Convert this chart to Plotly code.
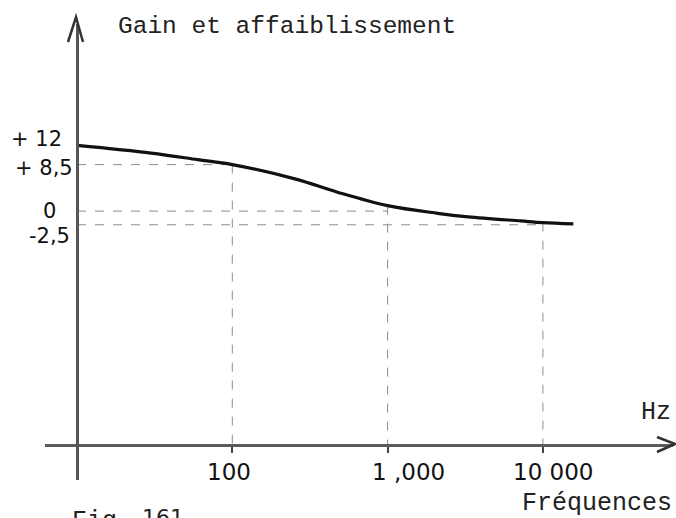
import numpy as np
import plotly.graph_objects as go

# Response curve: gain/attenuation (dB) versus frequency (Hz)
freq_hz = [10, 30, 60, 100, 260, 470, 1000, 2100, 3300, 7200, 10000, 15700]
gain_db = [12, 10.6, 9.4, 8.5, 5.8, 3.5, 1.0, -0.4, -1.05, -1.8, -2.1, -2.35]

# Reference levels marked with dashed guides
guide_freq = [100, 1000, 10000]
guide_gain = [8.5, 0, -2.5]

# Axis labels
y_tickvals = [12, 8.5, 0, -2.5]
y_ticktext = ["+ 12", "+ 8,5", "0", "-2,5"]
x_tickvals = [100, 1000, 10000]
x_ticktext = ["100", "1 ,000", "10 000"]

W, H = 676, 518

# Page geometry (pixels)
X_LEFT, X_RIGHT = 45, 673        # horizontal axis extent
Y_TOP, Y_BOTTOM = 24, 480        # vertical axis extent
ORIGIN_X, ORIGIN_Y = 77, 445     # where the two axes cross
PX_PER_DECADE = 155.3
Y_ZERO_PX, PX_PER_DB = 211.1, 5.47


def lx(px):
    return 1 + (px - ORIGIN_X) / PX_PER_DECADE


def gy(py):
    return (Y_ZERO_PX - py) / PX_PER_DB


def paper_x(px):
    return px / W


def paper_y(py):
    return 1 - py / H


x_range = [lx(X_LEFT), lx(X_RIGHT)]
y_range = [gy(Y_BOTTOM), gy(Y_TOP)]
x_origin = 10 ** lx(ORIGIN_X)
y_floor = gy(ORIGIN_Y)

fig = go.Figure()

# Dashed guides: horizontal at the marked level, vertical from the curve down to the axis
guide_style = dict(color="#8c8c8c", width=1, dash="dash")
for f, g in zip(guide_freq, guide_gain):
    g_curve = gain_db[freq_hz.index(f)]
    fig.add_trace(go.Scatter(x=[x_origin, f], y=[g, g], mode="lines",
                             line=guide_style, hoverinfo="skip", showlegend=False))
    fig.add_trace(go.Scatter(x=[f, f], y=[g_curve, y_floor], mode="lines",
                             line=guide_style, hoverinfo="skip", showlegend=False))

fig.add_trace(go.Scatter(x=freq_hz, y=gain_db, mode="lines",
                         line=dict(color="#111111", width=3.2, shape="spline", smoothing=1.0),
                         showlegend=False))

fig.update_layout(
    width=W, height=H,
    margin=dict(l=0, r=0, t=0, b=0),
    paper_bgcolor="white", plot_bgcolor="white",
    xaxis=dict(type="log", range=x_range,
               domain=[paper_x(X_LEFT), paper_x(X_RIGHT)],
               anchor="free", position=paper_y(ORIGIN_Y),
               showline=True, linecolor="#5a5a5a", linewidth=3,
               showgrid=False, zeroline=False,
               tickvals=x_tickvals, ticktext=[""] * len(x_tickvals),
               ticks="outside", ticklen=6, tickwidth=2, tickcolor="#444444"),
    yaxis=dict(range=y_range,
               domain=[paper_y(Y_BOTTOM), paper_y(Y_TOP)],
               anchor="free", position=paper_x(ORIGIN_X),
               showline=True, linecolor="#555555", linewidth=3,
               showgrid=False, zeroline=False,
               tickvals=y_tickvals, ticktext=[""] * len(y_tickvals), ticks=""),
)

tick_font = dict(family="DejaVu Sans", size=21, color="#111111")

# Value labels on the gain axis (right-aligned against the axis)
y_label_right_px = [64, 75, 58, 72]
y_label_shift_px = [6, -3, 0, -11]
for v, t, rx, dy in zip(y_tickvals, y_ticktext, y_label_right_px, y_label_shift_px):
    fig.add_annotation(text=t, x=paper_x(rx), xref="paper", y=v, yref="y",
                       xanchor="right", yanchor="middle", yshift=dy,
                       showarrow=False, font=tick_font)

# Frequency labels under the horizontal axis
x_label_shift_px = [-3, 21, 10]
for f, t, dx in zip(x_tickvals, x_ticktext, x_label_shift_px):
    fig.add_annotation(text=t, x=np.log10(f), xref="x", y=paper_y(472), yref="paper",
                       xanchor="center", yanchor="middle", xshift=dx,
                       showarrow=False, font=dict(family="DejaVu Sans", size=23, color="#111111"))

# Arrow heads on both axes
arrow_style = dict(type="path", xref="paper", yref="paper",
                   line=dict(color="#333333", width=2.5))


def pth(points):
    return "M " + " L ".join(f"{paper_x(a)},{paper_y(b)}" for a, b in points)


fig.add_shape(path=pth([(68, 42), (76, 17), (83, 42)]), **arrow_style)
fig.add_shape(path=pth([(657, 437), (675, 444), (657, 452)]), **arrow_style)

mono = "Liberation Mono"
texts = [
    ("Gain et affaiblissement", 116, 26, "left", "middle", mono, 24.5),
    ("Hz", 673, 412, "right", "middle", mono, 25),
    ("Fréquences", 674, 503, "right", "middle", mono, 25),
    ("Fig.", 70, 505, "left", "top", mono, 25),
    ("161", 140, 503, "left", "top", "DejaVu Sans", 22),
]
for t, px, py, xa, ya, fam, sz in texts:
    fig.add_annotation(text=t, x=paper_x(px), y=paper_y(py), xref="paper", yref="paper",
                       xanchor=xa, yanchor=ya, showarrow=False,
                       font=dict(family=fam, size=sz, color="#222222"))

fig.write_html("out.html")
